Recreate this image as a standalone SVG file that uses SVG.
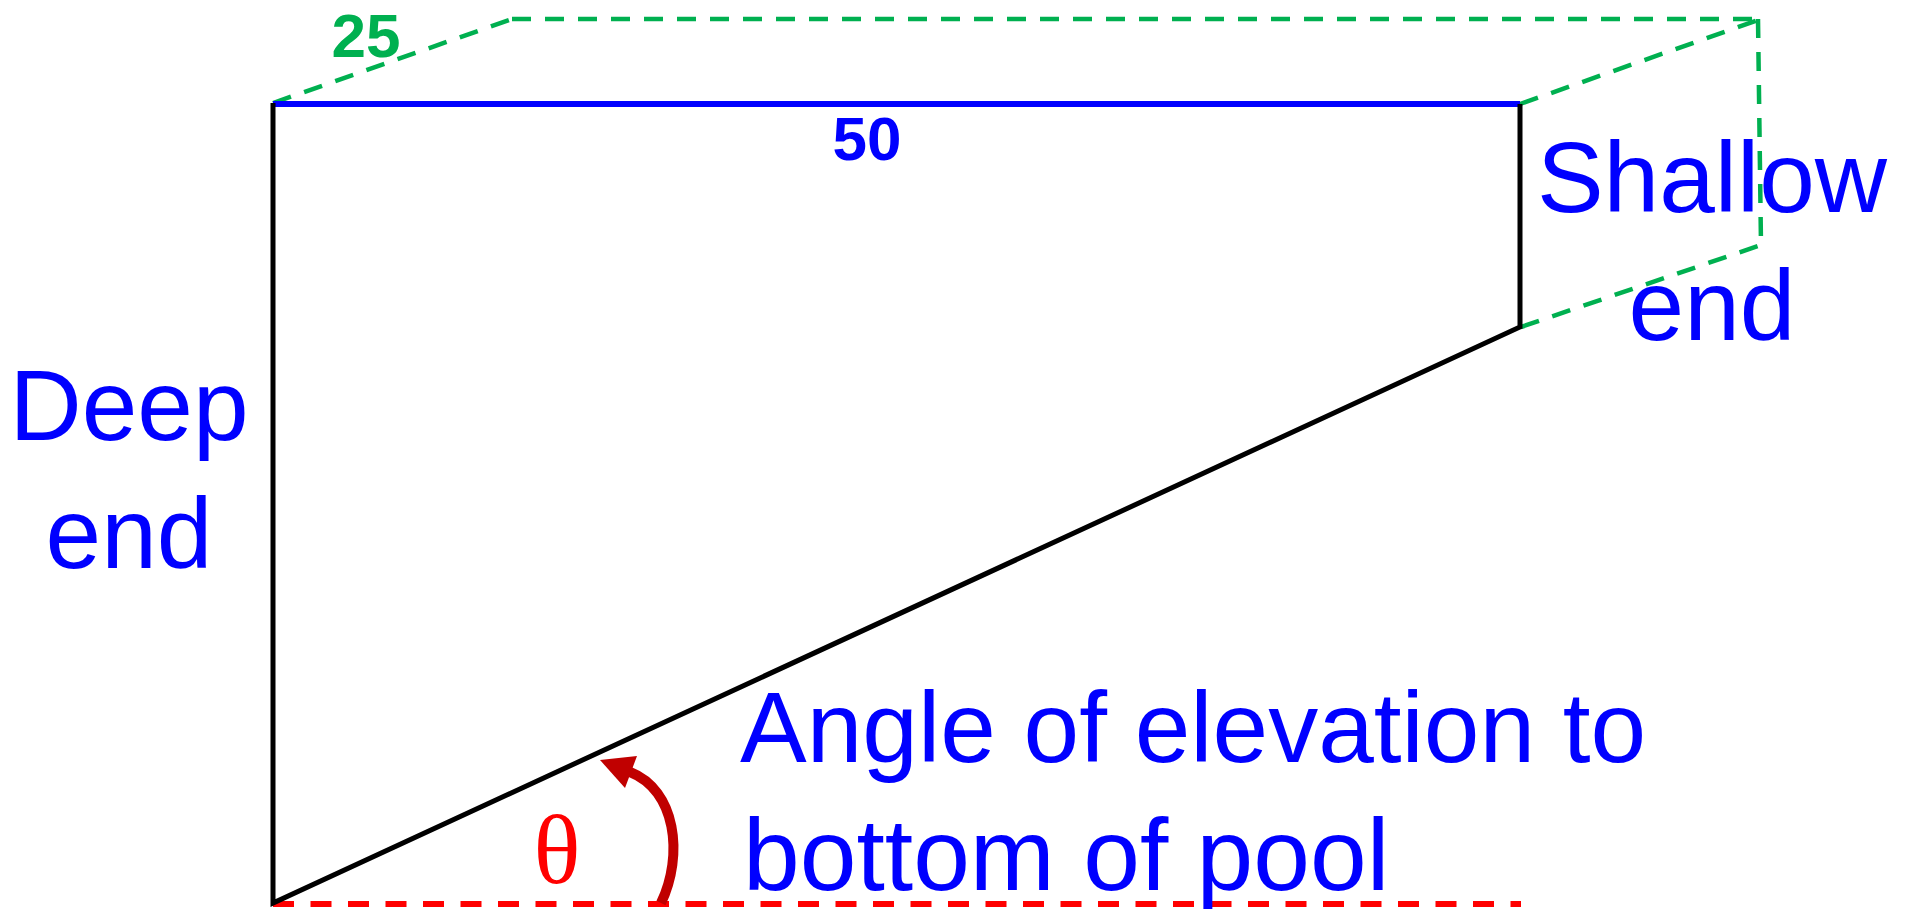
<svg xmlns="http://www.w3.org/2000/svg" width="1906" height="909" viewBox="0 0 1906 909">
  <style>
    .lbl { font-family: "Liberation Sans", Arial, sans-serif; fill: #0000FF; font-size: 100px; }
    .num { font-family: "Liberation Sans", Arial, sans-serif; font-weight: bold; font-size: 62px; }
    .edge { stroke: #000000; stroke-width: 5; fill: none; stroke-linejoin: miter; }
    .green { stroke: #00B050; stroke-width: 4.5; fill: none; stroke-dasharray: 19 14; }
    .reddash { stroke: #FF0000; stroke-width: 6; fill: none; stroke-dasharray: 21 16.5; }
  </style>
  <rect width="1906" height="909" fill="#FFFFFF"/>

  <g id="perspective">
    <line class="green" x1="273" y1="103" x2="512" y2="19"/>
    <line class="green" x1="512" y1="19" x2="1758" y2="19"/>
    <line class="green" x1="1520" y1="104" x2="1758" y2="20"/>
    <line class="green" x1="1758" y1="19" x2="1761" y2="245"/>
    <line class="green" x1="1521" y1="327" x2="1761" y2="245"/>
  </g>

  <g id="baseline">
    <line class="reddash" x1="273" y1="904" x2="1521" y2="904"/>
  </g>

  <g id="pool">
    <line x1="273" y1="104" x2="1520" y2="104" stroke="#0000FF" stroke-width="6"/>
    <polyline class="edge" points="273,103 273,903 1520,327 1520,104"/>
  </g>

  <g id="angle-arrow">
    <path d="M 661,903 C 684,855 676,790 630,772" stroke="#C00000" stroke-width="10" fill="none"/>
    <polygon points="600,760 637,756 625,788" fill="#C00000"/>
  </g>

  <g id="labels">
    <text class="num" x="366" y="57" text-anchor="middle" fill="#00B050">25</text>
    <text class="num" x="867" y="160" text-anchor="middle" fill="#0000FF">50</text>
    <text class="lbl" x="1712" y="212" text-anchor="middle">Shallow</text>
    <text class="lbl" x="1712" y="340" text-anchor="middle">end</text>
    <text class="lbl" x="129" y="440" text-anchor="middle">Deep</text>
    <text class="lbl" x="129" y="568" text-anchor="middle">end</text>
    <text class="lbl" x="740" y="762">Angle of elevation to</text>
    <text class="lbl" x="743" y="890" style="font-size:102px">bottom of pool</text>
    <text x="557" y="883" text-anchor="middle" font-family="'Liberation Serif', 'Times New Roman', serif" font-size="98" fill="#FF0000">θ</text>
  </g>
</svg>
